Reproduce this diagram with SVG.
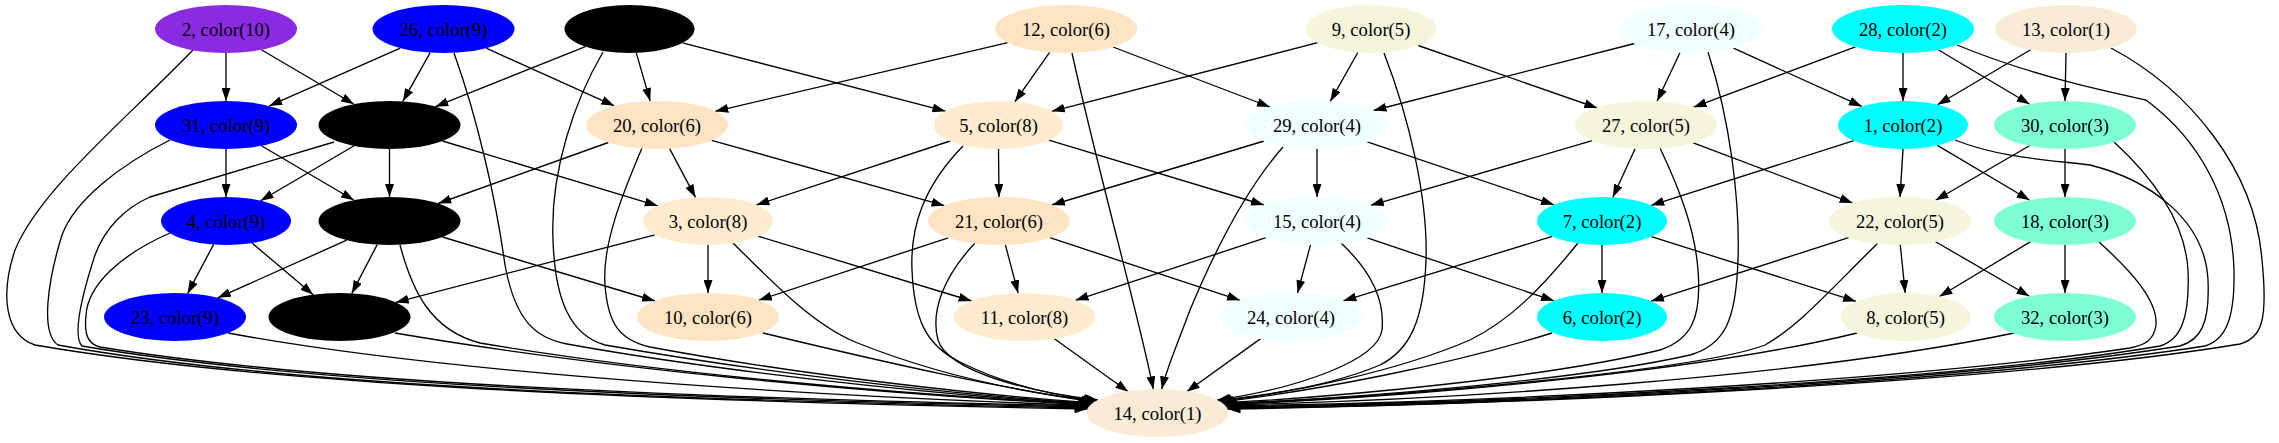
<svg xmlns="http://www.w3.org/2000/svg" width="2279" height="443" viewBox="0 0 2279 443">
<style>
.lbl{font-family:"Liberation Serif","Times New Roman",serif;font-size:18.67px;text-anchor:middle;fill:#000}
#edges path{fill:none;stroke:#000;stroke-width:1.33;marker-end:url(#arrow)}
.c1{fill:#FAEBD7}.c2{fill:#00FFFF}.c3{fill:#7FFFD4}.c4{fill:#F0FFFF}.c5{fill:#F5F5DC}.c6{fill:#FFE4C4}.c7{fill:#000000}.c8{fill:#FFEBCD}.c9{fill:#0000FF}.c10{fill:#8A2BE2}
</style>
<defs>
<marker id="arrow" viewBox="0 0 13 9" refX="13" refY="4.5" markerWidth="13" markerHeight="9" markerUnits="userSpaceOnUse" orient="auto"><path d="M0,0 L13,4.5 L0,9 z" fill="#000"/></marker>
</defs>
<rect width="2279" height="443" fill="#fff"/>
<g id="edges">
<path d="M226,53 L226,101"/>
<path d="M261.4,49.8 L354.1,104.2"/>
<path d="M400.3,48.1 L269.2,105.9"/>
<path d="M430.2,52.6 L402.8,101.4"/>
<path d="M486.2,48.2 L614.3,105.8"/>
<path d="M585.4,46.6 L435.3,106.7"/>
<path d="M636.3,52.9 L650.2,101.1"/>
<path d="M682.6,42.8 L945.4,111.2"/>
<path d="M1007.7,42.7 L715.3,111.3"/>
<path d="M1049.6,52.3 L1014.8,101.8"/>
<path d="M1113,47 L1270,107"/>
<path d="M1317.7,42.7 L1051.8,111.3"/>
<path d="M1357.8,52.5 L1330.3,101.4"/>
<path d="M1418.2,45.5 L1597.3,108"/>
<path d="M1634.5,43.5 L1373.5,110.5"/>
<path d="M1679.9,52.7 L1657.1,101.3"/>
<path d="M1733.5,48.2 L1861.9,106.4"/>
<path d="M1855.4,46.8 L1693.6,107.2"/>
<path d="M1903,53 L1903,101"/>
<path d="M1938.2,49.8 L2029.8,104.2"/>
<path d="M2030.7,49.8 L1937.5,104.7"/>
<path d="M2066,53 L2065,101"/>
<path d="M226,149 L226,197"/>
<path d="M261.4,145.8 L354.1,200.2"/>
<path d="M354.1,145.8 L260.6,200.7"/>
<path d="M389.5,149 L389.5,197"/>
<path d="M442.5,141 L657.7,205.8"/>
<path d="M608.3,142.5 L438.2,203.5"/>
<path d="M669.6,148.6 L695.5,197.4"/>
<path d="M711.6,140.3 L944.4,205.7"/>
<path d="M950.1,141 L756.4,205"/>
<path d="M998.5,149 L999,197"/>
<path d="M1048.8,140.2 L1264,205"/>
<path d="M1264.1,141 L1051.9,205"/>
<path d="M1317,149 L1317,197"/>
<path d="M1367.3,141.9 L1554,204.8"/>
<path d="M1592.2,140.7 L1370.8,205.3"/>
<path d="M1635.1,148.7 L1612.8,197.3"/>
<path d="M1693.3,142.9 L1852.7,203.1"/>
<path d="M1853.8,140.7 L1651.2,205.3"/>
<path d="M1903,149 L1900,197"/>
<path d="M1937.4,145.4 L2029.8,200.2"/>
<path d="M2029.4,145.7 L1935.6,200.3"/>
<path d="M2065,149 L2065,197"/>
<path d="M213.5,244.6 L187.6,293.4"/>
<path d="M252,243 L313.2,294.7"/>
<path d="M346.7,240.2 L217.8,297.8"/>
<path d="M377.2,244.6 L351.8,293.4"/>
<path d="M442.5,237 L655,301"/>
<path d="M654.9,234.8 L395.7,302.4"/>
<path d="M708,245 L708,293"/>
<path d="M758.2,236.2 L971.6,301"/>
<path d="M948.2,237.8 L758.8,300.2"/>
<path d="M1005.4,244.9 L1018.1,293.1"/>
<path d="M1049.9,237.7 L1240.1,300.3"/>
<path d="M1266,237.7 L1075.5,300.3"/>
<path d="M1310.5,244.9 L1297.5,293.1"/>
<path d="M1367.3,237.9 L1554,300.8"/>
<path d="M1552.1,236.4 L1343.4,300.8"/>
<path d="M1602,245 L1602,293"/>
<path d="M1651.4,236.6 L1856.1,301.4"/>
<path d="M1848.6,237.6 L1651,301.2"/>
<path d="M1900.3,245 L1905.2,293"/>
<path d="M1935.6,241.7 L2029.4,296.3"/>
<path d="M2030.2,241.9 L1939.5,296.5"/>
<path d="M2065,245 L2065,293"/>
<path d="M193,50 C120,125 40,190 15,250 C0,295 5,335 35,345 C250,382 600,400 1087.5,409"/>
<path d="M170,140 C120,165 75,200 62,235 C48,280 40,333 58,345 C260,382 600,399 1088,408"/>
<path d="M334,142 L150,197 C125,208 105,228 95,255 C82,295 72,335 82,346 C280,380 620,398 1088.7,407"/>
<path d="M170,233 C120,255 88,285 86,315 C84,335 88,344 100,347 C300,380 640,397 1089.6,406"/>
<path d="M228,333 C400,365 700,392 1090.1,405.5"/>
<path d="M395,333 C600,368 850,392 1090.6,405"/>
<path d="M454,53 C478,120 496,200 505,265 C515,320 535,338 567,344 C700,368 900,392 1091.2,404.5"/>
<path d="M400,245 C412,290 430,330 480,343 C650,372 900,395 1091.7,404"/>
<path d="M603,52 C575,100 550,170 553,240 C555,300 570,335 605,345 C760,372 950,395 1092.4,403.5"/>
<path d="M642,148 C622,195 602,245 605,285 C608,325 620,340 650,347 C800,375 980,395 1093,403"/>
<path d="M763,333 C900,366 1000,388 1094.4,402"/>
<path d="M733,243 C780,290 815,325 855,342 C920,368 1000,390 1096,401"/>
<path d="M963,146 C925,185 910,225 912,270 C914,318 925,345 960,362 C1000,382 1050,395 1097,400.5"/>
<path d="M975,243 C945,275 930,310 938,340 C948,372 1030,392 1097.8,400"/>
<path d="M1054.4,338.8 L1128.3,391.7"/>
<path d="M1072,53 C1100,180 1140,320 1153.3,389.3"/>
<path d="M1283,147 C1245,190 1215,250 1190,310 C1177,345 1166,370 1161.7,389.3"/>
<path d="M1260.7,338.6 L1186.7,391.7"/>
<path d="M1341,243 C1370,270 1385,300 1382,330 C1378,360 1300,388 1217.2,400"/>
<path d="M1384,53 C1410,120 1428,200 1426,260 C1424,320 1410,350 1380,365 C1340,382 1280,394 1218,400.5"/>
<path d="M1578,243 C1540,290 1510,320 1470,340 C1400,370 1300,392 1219,401"/>
<path d="M1552,333 C1450,365 1320,390 1220.6,402"/>
<path d="M1660,148 C1680,190 1695,230 1698,270 C1702,320 1690,340 1660,350 C1550,377 1350,396 1222,403"/>
<path d="M1708,52 C1730,120 1740,200 1738,260 C1736,320 1725,345 1690,355 C1580,380 1360,398 1222.6,403.5"/>
<path d="M1878,243 C1830,290 1800,325 1765,345 C1700,370 1400,397 1223.3,404"/>
<path d="M1857,333 C1700,372 1400,398 1223.8,404.5"/>
<path d="M2014,333 C1800,378 1450,400 1224.4,405"/>
<path d="M2099,242 C2130,270 2158,300 2156,325 C2154,340 2145,345 2130,348 C1900,382 1500,402 1225.4,406"/>
<path d="M2114,142 C2150,175 2185,220 2188,270 C2190,320 2180,340 2160,346 C1950,382 1500,403 1226.3,407"/>
<path d="M1955,140 C2000,158 2050,160 2090,165 C2150,180 2205,220 2208,280 C2210,325 2200,340 2180,346 C1950,383 1500,404 1227,408"/>
<path d="M1957,45 C2030,75 2100,90 2146,100 C2200,140 2232,200 2234,270 C2235,320 2225,340 2205,346 C1960,384 1500,405 1227.3,408.5"/>
<path d="M2111,48 C2190,90 2255,170 2262,260 C2268,320 2262,338 2240,344 C2000,384 1500,405 1227.5,409"/>
</g>
<g id="node-2"><ellipse class="c10" cx="226" cy="29" rx="71" ry="24"/><text class="lbl" x="226" y="35.5">2, color(10)</text></g>
<g id="node-26"><ellipse class="c9" cx="443.5" cy="29" rx="71" ry="24"/><text class="lbl" x="443.5" y="35.5">26, color(9)</text></g>
<g id="node-black-a"><ellipse class="c7" cx="629.5" cy="29" rx="65" ry="24"/></g>
<g id="node-12"><ellipse class="c6" cx="1066" cy="29" rx="71" ry="24"/><text class="lbl" x="1066" y="35.5">12, color(6)</text></g>
<g id="node-9"><ellipse class="c5" cx="1371" cy="29" rx="65" ry="24"/><text class="lbl" x="1371" y="35.5">9, color(5)</text></g>
<g id="node-17"><ellipse class="c4" cx="1691" cy="29" rx="71" ry="24"/><text class="lbl" x="1691" y="35.5">17, color(4)</text></g>
<g id="node-28"><ellipse class="c2" cx="1903" cy="29" rx="71" ry="24"/><text class="lbl" x="1903" y="35.5">28, color(2)</text></g>
<g id="node-13"><ellipse class="c1" cx="2066" cy="29" rx="71" ry="24"/><text class="lbl" x="2066" y="35.5">13, color(1)</text></g>
<g id="node-31"><ellipse class="c9" cx="226" cy="125" rx="71" ry="24"/><text class="lbl" x="226" y="131.5">31, color(9)</text></g>
<g id="node-black-b"><ellipse class="c7" cx="389.5" cy="125" rx="71" ry="24"/></g>
<g id="node-20"><ellipse class="c6" cx="657" cy="125" rx="71" ry="24"/><text class="lbl" x="657" y="131.5">20, color(6)</text></g>
<g id="node-5"><ellipse class="c8" cx="998.5" cy="125" rx="65" ry="24"/><text class="lbl" x="998.5" y="131.5">5, color(8)</text></g>
<g id="node-29"><ellipse class="c4" cx="1317" cy="125" rx="71" ry="24"/><text class="lbl" x="1317" y="131.5">29, color(4)</text></g>
<g id="node-27"><ellipse class="c5" cx="1646" cy="125" rx="71" ry="24"/><text class="lbl" x="1646" y="131.5">27, color(5)</text></g>
<g id="node-1"><ellipse class="c2" cx="1903" cy="125" rx="65" ry="24"/><text class="lbl" x="1903" y="131.5">1, color(2)</text></g>
<g id="node-30"><ellipse class="c3" cx="2065" cy="125" rx="71" ry="24"/><text class="lbl" x="2065" y="131.5">30, color(3)</text></g>
<g id="node-4"><ellipse class="c9" cx="226" cy="221" rx="65" ry="24"/><text class="lbl" x="226" y="227.5">4, color(9)</text></g>
<g id="node-black-c"><ellipse class="c7" cx="389.5" cy="221" rx="71" ry="24"/></g>
<g id="node-3"><ellipse class="c8" cx="708" cy="221" rx="65" ry="24"/><text class="lbl" x="708" y="227.5">3, color(8)</text></g>
<g id="node-21"><ellipse class="c6" cx="999" cy="221" rx="71" ry="24"/><text class="lbl" x="999" y="227.5">21, color(6)</text></g>
<g id="node-15"><ellipse class="c4" cx="1317" cy="221" rx="71" ry="24"/><text class="lbl" x="1317" y="227.5">15, color(4)</text></g>
<g id="node-7"><ellipse class="c2" cx="1602" cy="221" rx="65" ry="24"/><text class="lbl" x="1602" y="227.5">7, color(2)</text></g>
<g id="node-22"><ellipse class="c5" cx="1900" cy="221" rx="71" ry="24"/><text class="lbl" x="1900" y="227.5">22, color(5)</text></g>
<g id="node-18"><ellipse class="c3" cx="2065" cy="221" rx="71" ry="24"/><text class="lbl" x="2065" y="227.5">18, color(3)</text></g>
<g id="node-23"><ellipse class="c9" cx="175" cy="317" rx="71" ry="24"/><text class="lbl" x="175" y="323.5">23, color(9)</text></g>
<g id="node-black-d"><ellipse class="c7" cx="339.5" cy="317" rx="71" ry="24"/></g>
<g id="node-10"><ellipse class="c6" cx="708" cy="317" rx="71" ry="24"/><text class="lbl" x="708" y="323.5">10, color(6)</text></g>
<g id="node-11"><ellipse class="c8" cx="1024.5" cy="317" rx="71" ry="24"/><text class="lbl" x="1024.5" y="323.5">11, color(8)</text></g>
<g id="node-24"><ellipse class="c4" cx="1291" cy="317" rx="71" ry="24"/><text class="lbl" x="1291" y="323.5">24, color(4)</text></g>
<g id="node-6"><ellipse class="c2" cx="1602" cy="317" rx="65" ry="24"/><text class="lbl" x="1602" y="323.5">6, color(2)</text></g>
<g id="node-8"><ellipse class="c5" cx="1905.5" cy="317" rx="65" ry="24"/><text class="lbl" x="1905.5" y="323.5">8, color(5)</text></g>
<g id="node-32"><ellipse class="c3" cx="2065" cy="317" rx="71" ry="24"/><text class="lbl" x="2065" y="323.5">32, color(3)</text></g>
<g id="node-14"><ellipse class="c1" cx="1157.5" cy="413" rx="71" ry="24"/><text class="lbl" x="1157.5" y="419.5">14, color(1)</text></g>
</svg>
